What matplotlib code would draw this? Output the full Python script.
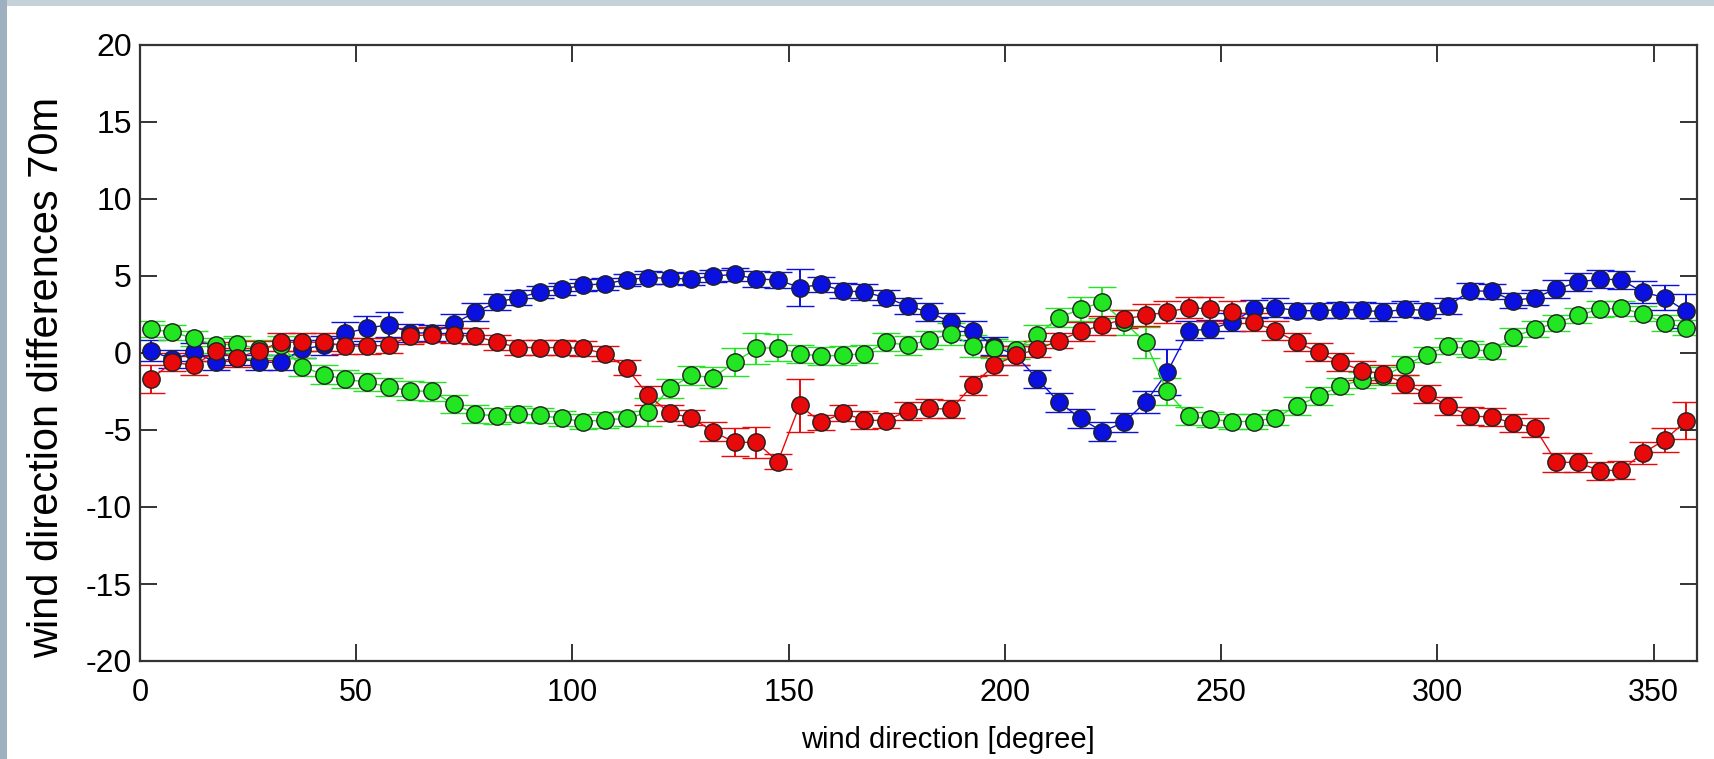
import numpy as np
import matplotlib
matplotlib.use("Agg")
import matplotlib.pyplot as plt
from matplotlib.patches import Rectangle

plt.rcParams["axes.unicode_minus"] = False

# wind direction bin centres (degrees)
direction = [2.5, 7.5, 12.5, 17.5, 22.5, 27.5, 32.5, 37.5, 42.5, 47.5, 52.5, 57.5,
             62.5, 67.5, 72.5, 77.5, 82.5, 87.5, 92.5, 97.5, 102.5, 107.5, 112.5, 117.5,
             122.5, 127.5, 132.5, 137.5, 142.5, 147.5, 152.5, 157.5, 162.5, 167.5, 172.5, 177.5,
             182.5, 187.5, 192.5, 197.5, 202.5, 207.5, 212.5, 217.5, 222.5, 227.5, 232.5, 237.5,
             242.5, 247.5, 252.5, 257.5, 262.5, 267.5, 272.5, 277.5, 282.5, 287.5, 292.5, 297.5,
             302.5, 307.5, 312.5, 317.5, 322.5, 327.5, 332.5, 337.5, 342.5, 347.5, 352.5, 357.5]

blue_vals = [0.15, -0.4, 0.05, -0.6, -0.3, -0.6, -0.6, 0.25, 0.5, 1.3, 1.6, 1.85,
             1.3, 1.3, 1.9, 2.65, 3.3, 3.6, 3.95, 4.15, 4.4, 4.5, 4.75, 4.9,
             4.85, 4.8, 5.0, 5.1, 4.8, 4.75, 4.25, 4.45, 4.05, 3.95, 3.6, 3.05,
             2.65, 2.0, 1.45, 0.45, -0.15, -1.7, -3.2, -4.25, -5.1, -4.5, -3.2, -1.25,
             1.45, 1.55, 2.0, 2.85, 2.95, 2.75, 2.75, 2.8, 2.8, 2.65, 2.85, 2.75,
             3.05, 4.05, 4.0, 3.4, 3.6, 4.15, 4.6, 4.8, 4.75, 3.95, 3.6, 2.7]
blue_err = [0.7, 0.6, 0.6, 0.5, 0.5, 0.5, 0.5, 0.6, 0.6, 0.7, 0.8, 0.8,
            0.6, 0.5, 0.6, 0.6, 0.5, 0.5, 0.4, 0.4, 0.4, 0.4, 0.4, 0.4,
            0.4, 0.4, 0.4, 0.4, 0.5, 0.5, 1.2, 0.5, 0.5, 0.5, 0.5, 0.5,
            0.6, 0.6, 0.6, 0.6, 0.6, 0.6, 0.6, 0.6, 0.6, 0.6, 0.7, 1.5,
            0.6, 0.6, 0.6, 0.6, 0.6, 0.5, 0.5, 0.5, 0.5, 0.6, 0.5, 0.5,
            0.5, 0.5, 0.5, 0.5, 0.5, 0.6, 0.6, 0.6, 0.6, 0.7, 0.8, 1.1]

green_vals = [1.55, 1.35, 0.95, 0.5, 0.6, 0.25, 0.5, -0.9, -1.4, -1.7, -1.9, -2.2,
              -2.45, -2.5, -3.3, -3.95, -4.1, -3.95, -4.05, -4.25, -4.45, -4.35, -4.25, -3.85,
              -2.3, -1.45, -1.6, -0.6, 0.3, 0.35, -0.05, -0.2, -0.15, -0.05, 0.7, 0.5,
              0.85, 1.25, 0.45, 0.3, 0.2, 1.2, 2.3, 2.85, 3.3, 2.0, 0.7, -2.5,
              -4.1, -4.3, -4.45, -4.45, -4.2, -3.45, -2.8, -2.15, -1.75, -1.5, -0.8, -0.1,
              0.45, 0.25, 0.1, 1.05, 1.55, 1.95, 2.45, 2.85, 2.9, 2.55, 1.95, 1.65]
green_err = [0.5, 0.5, 0.5, 0.5, 0.5, 0.6, 0.6, 0.6, 0.6, 0.6, 0.6, 0.6,
             0.6, 0.6, 0.6, 0.6, 0.5, 0.5, 0.5, 0.5, 0.5, 0.5, 0.5, 0.9,
             0.6, 0.6, 0.7, 0.9, 1.0, 0.9, 0.6, 0.6, 0.6, 0.6, 0.6, 0.6,
             0.6, 0.7, 0.7, 0.6, 0.6, 0.6, 0.6, 0.8, 1.0, 0.8, 1.0, 0.9,
             0.6, 0.5, 0.5, 0.5, 0.5, 0.6, 0.6, 0.5, 0.5, 0.6, 0.6, 0.5,
             0.5, 0.5, 0.5, 0.6, 0.5, 0.5, 0.5, 0.5, 0.5, 0.5, 0.5, 0.5]

red_vals = [-1.7, -0.6, -0.8, 0.1, -0.3, 0.15, 0.7, 0.7, 0.7, 0.45, 0.45, 0.5,
            1.1, 1.2, 1.15, 1.1, 0.7, 0.35, 0.35, 0.35, 0.3, -0.05, -0.95, -2.75,
            -3.9, -4.2, -5.1, -5.8, -5.8, -7.05, -3.4, -4.5, -3.9, -4.35, -4.4, -3.75,
            -3.6, -3.65, -2.1, -0.8, -0.15, 0.25, 0.8, 1.4, 1.8, 2.2, 2.45, 2.65,
            2.95, 2.85, 2.65, 2.0, 1.45, 0.7, 0.05, -0.6, -1.15, -1.35, -2.0, -2.65,
            -3.45, -4.1, -4.15, -4.55, -4.85, -7.1, -7.1, -7.65, -7.6, -6.5, -5.65, -4.4]
red_err = [0.9, 0.6, 0.6, 0.6, 0.6, 0.6, 0.6, 0.6, 0.6, 0.5, 0.5, 0.5,
           0.5, 0.5, 0.5, 0.5, 0.5, 0.5, 0.5, 0.5, 0.5, 0.5, 0.5, 0.6,
           0.5, 0.5, 0.6, 0.9, 1.0, 0.5, 1.7, 0.5, 0.5, 0.6, 0.5, 0.6,
           0.6, 0.6, 0.6, 0.6, 0.6, 0.5, 0.5, 0.6, 0.6, 0.6, 0.7, 0.7,
           0.7, 0.8, 0.7, 0.6, 0.6, 0.6, 0.6, 0.6, 0.6, 0.6, 0.6, 0.6,
           0.6, 0.6, 0.6, 0.6, 0.6, 0.6, 0.6, 0.6, 0.6, 0.7, 0.8, 1.2]

x_ticks = [0, 50, 100, 150, 200, 250, 300, 350]
y_ticks = [-20, -15, -10, -5, 0, 5, 10, 15, 20]

W, H = 1715, 759
fig = plt.figure(figsize=(W / 100, H / 100), dpi=100)
fig.patch.set_facecolor("white")
# slide background visible around the figure
fig.patches.append(Rectangle((0, 1 - 6 / H), 1, 6 / H, transform=fig.transFigure,
                             facecolor="#c6d2da", edgecolor="none", zorder=0))
fig.patches.append(Rectangle((0, 0), 7 / W, 1, transform=fig.transFigure,
                             facecolor="#9eb0bd", edgecolor="none", zorder=0))

ax = fig.add_axes([140 / W, (H - 661) / H, (1697 - 140) / W, (661 - 45) / H])

series = [
    (blue_vals, blue_err, "#0a10e0"),
    (green_vals, green_err, "#22e622"),
    (red_vals, red_err, "#e80a0a"),
]
for vals, err, col in series:
    ax.errorbar(direction, vals, yerr=err, color=col, ecolor=col, elinewidth=1.4,
                capsize=10, capthick=1.4, linewidth=1.0, marker="o", markersize=12.5,
                markerfacecolor=col, markeredgecolor="#202020", markeredgewidth=1.0)

ax.set_xlim(0, 360)
ax.set_ylim(-20, 20)
ax.set_xticks(x_ticks)
ax.set_yticks(y_ticks)
ax.tick_params(direction="in", length=12, width=1.4, top=True, right=True,
               colors="#333333", labelcolor="black")
for lab in ax.get_xticklabels():
    lab.set_fontfamily("Liberation Sans")
    lab.set_fontsize(22)
for lab in ax.get_yticklabels():
    lab.set_fontfamily("Liberation Sans")
    lab.set_fontsize(23)
ax.tick_params(axis="x", pad=12)
ax.tick_params(axis="y", pad=6)
for s in ax.spines.values():
    s.set_linewidth(1.6)
    s.set_color("#333333")

ax.set_xlabel("wind direction [degree]", fontsize=21, family="Liberation Sans")
ax.xaxis.set_label_coords(0.519, -0.105)
ax.set_ylabel("wind direction differences 70m", fontsize=30, family="Liberation Sans")
ax.yaxis.set_label_coords(-0.047, 0.46)

fig.savefig("out.png", dpi=100)
